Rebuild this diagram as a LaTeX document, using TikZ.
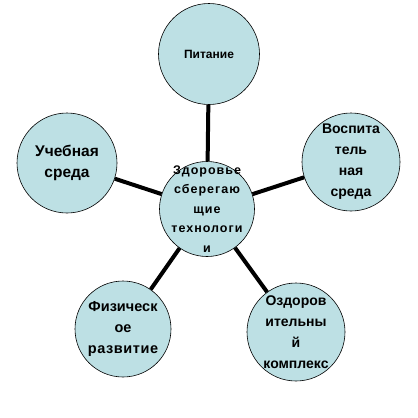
\documentclass[tikz,border=0pt]{standalone}
\usepackage{fontspec}
\setmainfont{Liberation Sans}
\definecolor{circfill}{RGB}{189,224,228}
\begin{document}
\begin{tikzpicture}[x=1pt,y=-1pt,
  bubble/.style={circle,draw=black,line width=0.6pt,fill=circfill,inner sep=0pt},
  bubtext/.style={align=center,inner sep=0pt},
  link/.style={line width=4pt,black}]
\useasboundingbox (0,0) rectangle (418,418);
\node[bubble,minimum size=95pt] (c) at (207,209) {};
\node[bubble,minimum size=101pt] (p) at (209,54) {};
\node[bubble,minimum size=100pt] (l) at (67,163) {};
\node[bubble,minimum size=98pt] (r) at (351,162) {};
\node[bubble,minimum size=96pt] (bl) at (123,329) {};
\node[bubble,minimum size=98pt] (br) at (296,332) {};
\node[bubtext,font=\fontsize{12.5}{19.5}\selectfont\bfseries] (ct) at (c.center)
  {\addfontfeature{LetterSpace=8}Здоровье\\\addfontfeature{LetterSpace=8}сберегаю\\\addfontfeature{LetterSpace=8}щие\\\addfontfeature{LetterSpace=8}технологи\\\addfontfeature{LetterSpace=8}и};
\node[bubtext,font=\fontsize{12}{18}\selectfont\bfseries] (pt) at (p.center) {Питание};
\node[bubtext,font=\fontsize{15.5}{21}\selectfont\bfseries] (lt) at (l.center) {Учебная\\среда};
\node[bubtext,font=\fontsize{14}{21}\selectfont\bfseries] (rt) at (r.center) {Воспита\\тель\\ная\\среда};
\node[bubtext,font=\fontsize{14.5}{21}\selectfont\bfseries] (blt) at (bl.center) {Физическ\\ое\\\addfontfeature{LetterSpace=4}развитие};
\node[bubtext,font=\fontsize{14}{21}\selectfont\bfseries] (brt) at (br.center) {Оздоров\\ительны\\й\\комплекс};
\draw[link] (c) -- (p);
\draw[link] (c) -- (l);
\draw[link] (c) -- (r);
\draw[link] (c) -- (bl);
\draw[link] (c) -- (br);
\end{tikzpicture}
\end{document}
